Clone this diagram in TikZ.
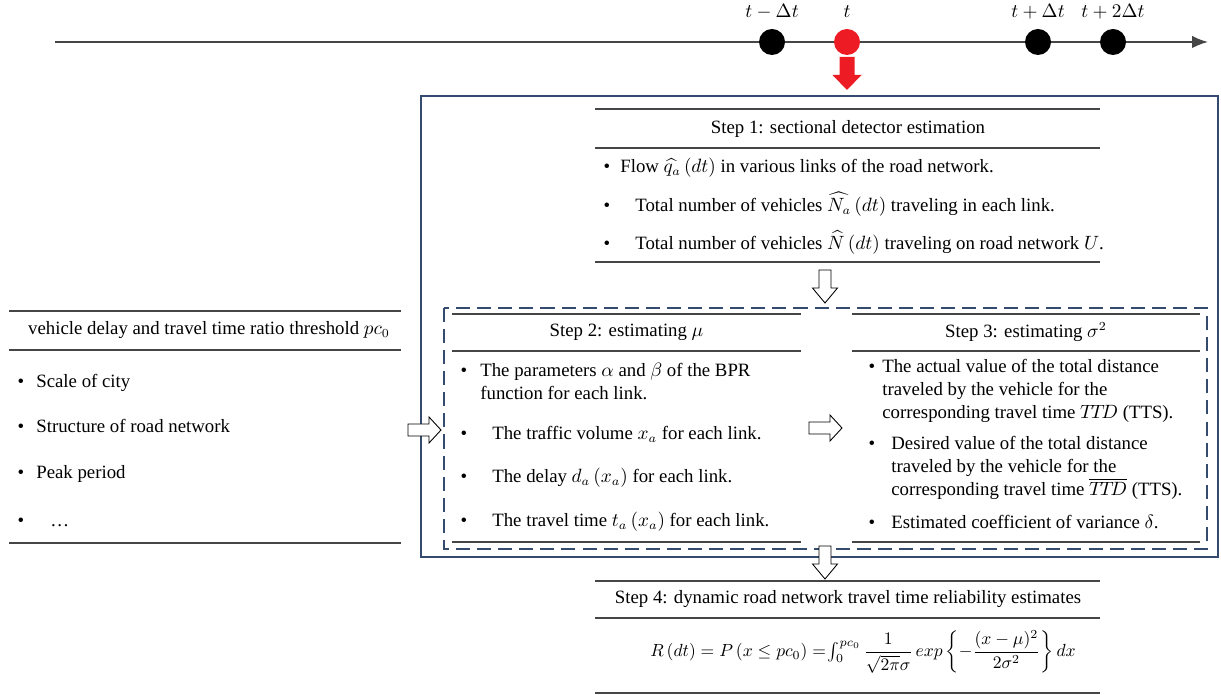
\documentclass[tikz,border=0pt]{standalone}
\usepackage{amsmath}
\usepackage{fontspec}
\setmainfont{Liberation Serif}
\usetikzlibrary{calc,arrows.meta}
\tikzset{>=latex}
\definecolor{boxblue}{RGB}{52,74,110}
\definecolor{rulegray}{RGB}{70,70,70}
\definecolor{dotred}{RGB}{237,28,36}
\newcommand{\hollowright}[1]{% 空心右箭头, #1 为箭尾中点
  \draw[hollow] ($(#1)+(0,-6)$) -- ++(21,0) -- ++(0,-7) -- ++(12,13)
    -- ++(-12,13) -- ++(0,-7) -- ++(-21,0) -- cycle;}
\newcommand{\hollowdown}[1]{% 空心下箭头
  \draw[hollow] ($(#1)+(-6,0)$) -- ++(0,18) -- ++(-6.5,0) -- ++(12.5,15)
    -- ++(12.5,-15) -- ++(-6.5,0) -- ++(0,-18) -- cycle;}

\begin{document}
\begin{tikzpicture}
  [
   x=0.02cm,y=-0.02cm,
   txt/.style={font=\fontsize{10.7}{13}\selectfont,inner sep=0pt},
   item/.style={txt,anchor=base west,align=left},
   bul/.style={txt,anchor=base},
   rulebar/.style={draw=rulegray,line width=0.8pt},
   hollow/.style={draw=black,fill=white,line width=0.5pt},
   tdot/.style={circle,fill=black,minimum size=26*0.02cm,inner sep=0pt}
  ]
  \useasboundingbox (0,0) rectangle (1221,695);

  % 时间轴
  \coordinate (axstart) at (55,42);
  \coordinate (axend) at (1208,42);
  \draw[rulegray,line width=0.9pt,-{Latex[length=9pt,width=7pt]}] (axstart) -- (axend);
  \node[tdot] (tm) at (772,42) {};
  \node[tdot,fill=dotred] (tnow) at (847,42) {};
  \node[tdot] (tp) at (1038,42) {};
  \node[tdot] (tpp) at (1113,42) {};
  \foreach \n/\lab in {tm/{t-\Delta t},tnow/t,tp/{t+\Delta t},tpp/{t+2\Delta t}}
    \node[txt,anchor=base] (lab-\n) at ($(\n)+(0,-24)$) {$\lab$};
  % 红色箭头
  \fill[dotred] ($(tnow)+(-7.5,15)$) -- ++(15,0) -- ++(0,18) -- ++(7,0)
    -- ++(-14.5,15) -- ++(-14.5,-15) -- ++(7,0) -- cycle;

  % 外框与虚线框
  \draw[boxblue,line width=1pt] (421,96) rectangle (1218,557);
  \draw[boxblue,line width=0.8pt,dash pattern=on 8pt off 4pt] (444,308) rectangle (1207,549);

  % 左侧: 阈值
  \foreach \y in {311,350,543} \draw[rulebar] (9,\y) -- (401,\y);
  \node[txt] (pc) at (209,330.5) {vehicle delay and travel time ratio threshold $pc_{0}$};
  \foreach \y/\x/\t [count=\i] in {387.5/36/{Scale of city},432.5/36/{Structure of road network},
      478.5/36/{Peak period},526.5/50/{\ldots}}
    {\node[bul] (pcb-\i) at (21,\y) {\textbullet};
     \node[item] (pci-\i) at (\x,\y) {\t};}

  % Step 1
  \foreach \y in {109,148,262} \draw[rulebar] (595,\y) -- (1100,\y);
  \node[txt] (s1) at (848,128.5) {Step 1: sectional detector estimation};
  \foreach \y/\x/\t [count=\i] in {172.5/620/{Flow $\widehat{q_{a}}\,(dt)$ in various links of the road network.},
      211.5/635/{Total number of vehicles $\widehat{N_{a}}\,(dt)$ traveling in each link.},
      249.5/635/{Total number of vehicles $\widehat{N}\,(dt)$ traveling on road network $U$.}}
    {\node[bul] (s1b-\i) at (607,\y) {\textbullet};
     \node[item] (s1i-\i) at (\x,\y) {\t};}

  % Step 2 (多行条目的 base 取最后一行)
  \foreach \y in {314,351,542} \draw[rulebar] (452,\y) -- (801,\y);
  \node[txt] (s2) at (626.5,332.5) {Step 2: estimating $\mu$};
  \node[bul] (s2b-1) at (464,376.5) {\textbullet};
  \node[item] (s2i-1) at (480,399.4) {The parameters $\alpha$ and $\beta$ of the BPR\\function for each link.};
  \foreach \y/\t [count=\i from 2] in {439.5/{The traffic volume $x_{a}$ for each link.},
      482.5/{The delay $d_{a}\,(x_{a})$ for each link.},
      526.5/{The travel time $t_{a}\,(x_{a})$ for each link.}}
    {\node[bul] (s2b-\i) at (464,\y) {\textbullet};
     \node[item] (s2i-\i) at (492,\y) {\t};}

  % Step 3
  \foreach \y in {314,351,542} \draw[rulebar] (852,\y) -- (1200,\y);
  \node[txt] (s3) at (1026,332.5) {Step 3: estimating $\sigma^{2}$};
  \node[bul] (s3b-1) at (872,372.5) {\textbullet};
  \node[item] (s3i-1) at (882,418.4) {The actual value of the total distance\\traveled by the vehicle for the\\corresponding travel time $T\!T\!D$ (TTS).};
  \node[bul] (s3b-2) at (872,449.5) {\textbullet};
  \node[item] (s3i-2) at (891,495.4) {Desired value of the total distance\\traveled by the vehicle for the\\corresponding travel time $\overline{T\!T\!D}$ (TTS).};
  \node[bul] (s3b-3) at (872,528.5) {\textbullet};
  \node[item] (s3i-3) at (891,528.5) {Estimated coefficient of variance $\delta$.};

  % Step 4
  \foreach \y in {581,618,693} \draw[rulebar] (595,\y) -- (1100,\y);
  \node[txt] (s4) at (848,599.5) {Step 4: dynamic road network travel time reliability estimates};
  \node[txt,font=\fontsize{9.7}{12}\selectfont] (rel) at (863,652) {$R\,(dt) = P\,(x \le pc_{0}) =\!\textstyle\int_{0}^{pc_{0}}\displaystyle\frac{1}{\sqrt{2\pi}\sigma}\,exp\left\{-\frac{(x-\mu)^{2}}{2\sigma^{2}}\right\}dx$};

  % 空心箭头
  \hollowdown{825,270}
  \hollowright{408,430}
  \hollowright{809,428}
  \hollowdown{825,546}
\end{tikzpicture}
\end{document}
